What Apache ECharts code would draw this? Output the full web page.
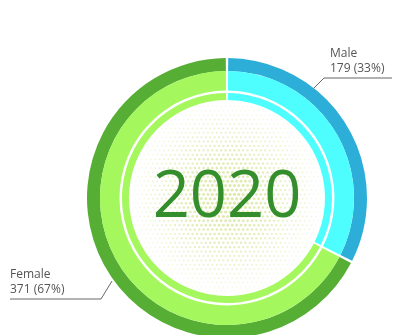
<!DOCTYPE html>
<html>
<head>
<meta charset="utf-8">
<script src="https://cdn.jsdelivr.net/npm/echarts@6/dist/echarts.min.js"></script>
<style>
  html, body { margin: 0; padding: 0; background: #fff; }
  #chart { width: 394px; height: 335px; }
</style>
</head>
<body>
<div id="chart"></div>
<script>
// ---- data ----
var categories = ['Male', 'Female'];
var values = [179, 371];
var yearLabel = '2020';

// ---- styles ----
var darkColors = ['#2DAED9', '#56AE34'];
var lightColors = ['#4EFEFE', '#A5F75E'];
var CX = 227, CY = 198;

var chart = echarts.init(document.getElementById('chart'), null, { renderer: 'canvas' });

var total = values.reduce(function (a, b) { return a + b; }, 0);
function makeData(colors) {
  return categories.map(function (c, i) {
    return { name: c, value: values[i], itemStyle: { color: colors[i] } };
  });
}

// halftone dot pattern for the centre
function makeDots(size) {
  var cv = document.createElement('canvas');
  cv.width = size; cv.height = size;
  var ctx = cv.getContext('2d');
  var r0 = size / 2, step = 4.4;
  var row = 0;
  for (var y = 0; y <= size; y += step, row++) {
    var off = (row % 2) ? step / 2 : 0;
    for (var x = off; x <= size; x += step) {
      var d = Math.hypot(x - r0, y - r0) / r0;
      if (d > 1) continue;
      var rad = 1.7 * (1 - d * 0.6);
      var a = 0.95 * (1 - d * d * 0.7);
      ctx.fillStyle = 'rgba(222,232,168,' + a.toFixed(3) + ')';
      ctx.beginPath();
      ctx.arc(x, y, rad, 0, Math.PI * 2);
      ctx.fill();
    }
  }
  return cv;
}
var dotSize = 192;
var dots = makeDots(dotSize);

var labelStyle = {
  Male:   { start: [312, 90], elbow: [324, 78], end: [392, 78], tx: 330 },
  Female: { start: [112, 281], elbow: [101, 299], end: [10, 299], tx: 10 }
};

function pct(v) { return Math.round(v / total * 100); }

var option = {
  animation: false,
  backgroundColor: '#fff',
  graphic: [
    {
      type: 'image', z: -10, silent: true,
      style: { image: dots, x: CX - dotSize / 2, y: CY - dotSize / 2, width: dotSize, height: dotSize }
    },
    {
      type: 'text', z: 100, silent: true,
      style: {
        text: yearLabel, x: CX, y: CY, align: 'center', verticalAlign: 'middle',
        fontSize: 65, fontFamily: 'Open Sans', fill: '#338E2B'
      }
    }
  ],
  series: [
    {
      type: 'pie', center: [CX, CY], radius: [127, 140], startAngle: 90, clockwise: true,
      padAngle: 1, silent: true,
      data: makeData(darkColors),
      label: {
        show: true,
        overflow: 'none',
        formatter: function (p) { return p.name + '\n' + p.value + ' (' + pct(p.value) + '%)'; },
        fontFamily: 'Open Sans', fontSize: 12, lineHeight: 15, color: '#555'
      },
      labelLine: { show: true, lineStyle: { color: '#666', width: 1 } },
      labelLayout: function (p) {
        var s = labelStyle[categories[p.dataIndex]];
        return {
          x: s.tx, y: s.end[1] - 2, align: 'left', verticalAlign: 'bottom',
          labelLinePoints: [s.start, s.elbow, s.end]
        };
      }
    },
    {
      type: 'pie', center: [CX, CY], radius: [107.5, 127], startAngle: 90, clockwise: true,
      padAngle: 1, silent: true, label: { show: false }, labelLine: { show: false },
      data: makeData(lightColors)
    },
    {
      type: 'pie', center: [CX, CY], radius: [98, 105], startAngle: 90, clockwise: true,
      padAngle: 1, silent: true, label: { show: false }, labelLine: { show: false },
      data: makeData(lightColors)
    }
  ]
};
chart.setOption(option);
</script>
</body>
</html>
